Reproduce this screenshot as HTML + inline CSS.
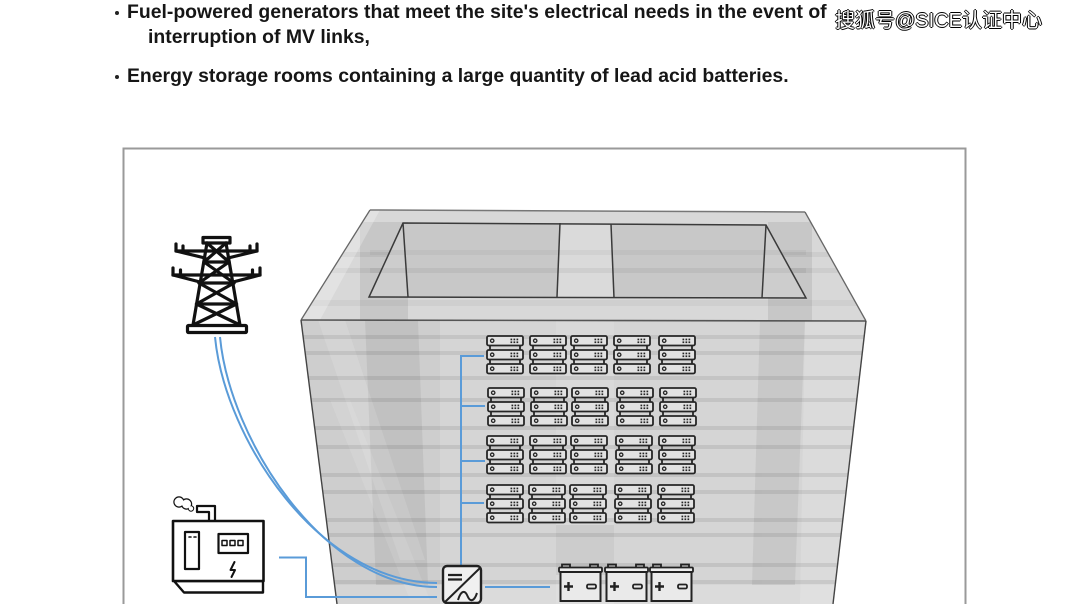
<!DOCTYPE html>
<html>
<head>
<meta charset="utf-8">
<style>
  html,body{margin:0;padding:0;background:#fff;}
  body{width:1075px;height:604px;overflow:hidden;position:relative;}
  .t{position:absolute;font-family:"Liberation Sans",Arial,sans-serif;font-weight:bold;font-size:19.4px;line-height:20px;color:#161616;white-space:nowrap;}
  .b{position:absolute;width:4px;height:4px;border-radius:50%;background:#222;}
  .wm{position:absolute;left:835px;top:9px;font-family:"Liberation Sans","Noto Sans CJK SC",sans-serif;font-size:20px;line-height:24px;color:#fff;white-space:nowrap;
      text-shadow:1px 0 0 #000,-1px 0 0 #000,0 1px 0 #000,0 -1px 0 #000;}
  svg{position:absolute;left:0;top:0;}
</style>
</head>
<body>
<svg width="1075" height="604" viewBox="0 0 1075 604" xmlns="http://www.w3.org/2000/svg">
  <defs>
    <clipPath id="front"><polygon points="301,320 866,321 833,604 337,604"/></clipPath>
    <clipPath id="roof"><polygon points="370,210 805,212 866,321 301,320"/></clipPath>
    <g id="unit">
      <rect x="0" y="0" width="36" height="9.5" rx="1.6" fill="#e2e2e2" stroke="#262626" stroke-width="1.8"/>
      <circle cx="5.2" cy="4.75" r="1.7" fill="none" stroke="#262626" stroke-width="1.3"/>
      <rect x="23.5" y="2.6" width="1.7" height="1.7" fill="#262626"/>
      <rect x="26.5" y="2.6" width="1.7" height="1.7" fill="#262626"/>
      <rect x="29.5" y="2.6" width="1.7" height="1.7" fill="#262626"/>
      <rect x="23.5" y="5.4" width="1.7" height="1.7" fill="#262626"/>
      <rect x="26.5" y="5.4" width="1.7" height="1.7" fill="#262626"/>
      <rect x="29.5" y="5.4" width="1.7" height="1.7" fill="#262626"/>
    </g>
    <g id="stack">
      <line x1="3" y1="9" x2="3" y2="14.5" stroke="#262626" stroke-width="1.8"/>
      <line x1="33" y1="9" x2="33" y2="14.5" stroke="#262626" stroke-width="1.8"/>
      <line x1="3" y1="23" x2="3" y2="28.5" stroke="#262626" stroke-width="1.8"/>
      <line x1="33" y1="23" x2="33" y2="28.5" stroke="#262626" stroke-width="1.8"/>
      <use href="#unit" x="0" y="0"/>
      <use href="#unit" x="0" y="14"/>
      <use href="#unit" x="0" y="28"/>
    </g>
    <g id="bat">
      <rect x="3" y="0" width="8" height="3.5" fill="none" stroke="#222" stroke-width="1.8"/>
      <rect x="31" y="0" width="8" height="3.5" fill="none" stroke="#222" stroke-width="1.8"/>
      <rect x="0" y="3" width="43" height="4.5" rx="1" fill="#eee" stroke="#222" stroke-width="1.8"/>
      <rect x="1.5" y="7.5" width="40" height="29" fill="#eaeaea" stroke="#222" stroke-width="2"/>
      <path d="M5,22 h9 M9.5,17.5 v9" stroke="#222" stroke-width="2.4" fill="none"/>
      <rect x="28" y="20" width="9" height="4" rx="1.5" fill="#eaeaea" stroke="#222" stroke-width="1.8"/>
    </g>
  </defs>

  <!-- frame -->
  <path d="M123.5,604 V148.5 H965.5 V604" fill="none" stroke="#9a9a9a" stroke-width="2"/>

  <!-- ===== building ===== -->
  <polygon points="370,210 805,212 866,321 301,320" fill="#d8d8d8"/>
  <g clip-path="url(#roof)">
    <rect x="360" y="222" width="48" height="100" fill="#000" opacity="0.08"/>
    <rect x="768" y="222" width="44" height="100" fill="#000" opacity="0.08"/>
    <rect x="300" y="252" width="570" height="5" fill="#000" opacity="0.05"/>
    <rect x="300" y="268" width="570" height="5" fill="#000" opacity="0.05"/>
    <rect x="300" y="300" width="570" height="6" fill="#000" opacity="0.04"/>
    <polygon points="301,320 370,210 380,210 320,320" fill="#fff" opacity="0.25"/>
  </g>
  <polygon points="403,223 766,225 806,298 369,297" fill="#c8c8c8"/>
  <polygon points="560,223 611,224 614,298 557,297" fill="#dadada"/>
  <polygon points="403,223 369,297 408,297" fill="#cdcdcd"/>
  <polygon points="766,225 806,298 762,298" fill="#cdcdcd"/>
  <rect x="370" y="250" width="436" height="5" fill="#000" opacity="0.04"/>
  <rect x="370" y="268" width="436" height="5" fill="#000" opacity="0.05"/>
  <g fill="none" stroke="#3a3a3a" stroke-width="1.5">
    <polygon points="403,223 766,225 806,298 369,297"/>
    <line x1="403" y1="223" x2="408" y2="297"/>
    <line x1="766" y1="225" x2="762" y2="298"/>
    <line x1="560" y1="223" x2="557" y2="297"/>
    <line x1="611" y1="224" x2="614" y2="298"/>
  </g>
  <line x1="370" y1="210" x2="805" y2="212" stroke="#777" stroke-width="1.5"/>
  <line x1="370" y1="210" x2="301" y2="320" stroke="#666" stroke-width="1.3"/>
  <line x1="805" y1="212" x2="866" y2="321" stroke="#666" stroke-width="1.3"/>

  <polygon points="301,320 866,321 833,604 337,604" fill="#d5d5d5"/>
  <g clip-path="url(#front)">
    <polygon points="301,320 440,320 440,604 301,604" fill="#000" opacity="0.03"/>
    <polygon points="365,320 418,320 428,585 376,585" fill="#000" opacity="0.06"/>
    <polygon points="318,320 345,320 425,560 400,560" fill="#fff" opacity="0.12"/>
    <polygon points="330,400 350,400 430,600 410,600" fill="#fff" opacity="0.1"/>
    <polygon points="760,320 805,320 795,585 752,585" fill="#000" opacity="0.06"/>
    <polygon points="805,320 866,320 840,604 800,604" fill="#fff" opacity="0.15"/>
    <rect x="556" y="320" width="58" height="290" fill="#fff" opacity="0.1"/>
    <rect x="556" y="525" width="58" height="50" fill="#000" opacity="0.06"/>
    <g fill="#000" opacity="0.08">
      <rect x="300" y="335" width="570" height="4"/>
      <rect x="300" y="351" width="570" height="4"/>
      <rect x="300" y="376" width="570" height="4"/>
      <rect x="300" y="398" width="570" height="4"/>
      <rect x="300" y="426" width="570" height="4"/>
      <rect x="300" y="445" width="570" height="4"/>
      <rect x="300" y="473" width="570" height="4"/>
      <rect x="300" y="490" width="570" height="4"/>
      <rect x="300" y="518" width="570" height="4"/>
      <rect x="300" y="533" width="570" height="4"/>
      <rect x="300" y="563" width="570" height="4"/>
      <rect x="300" y="580" width="570" height="4"/>
    </g>
    <rect x="300" y="585" width="570" height="20" fill="#fff" opacity="0.15"/>
  </g>
  <line x1="301" y1="320" x2="866" y2="321" stroke="#555" stroke-width="1.6"/>
  <line x1="301" y1="320" x2="337" y2="604" stroke="#444" stroke-width="1.4"/>
  <line x1="866" y1="321" x2="833" y2="604" stroke="#444" stroke-width="1.4"/>

  <!-- ===== connectors ===== -->
  <g fill="none" stroke="#5a9bd8" stroke-width="2">
    <path d="M215,337 C225,440 320,583 437,583"/>
    <path d="M220,337 C229.5,438.5 323,587 437,587"/>
    <path d="M279,557.5 H306 V597 H437"/>
    <path d="M461,566 V355"/>
    <path d="M461,356 H484 M461,406 H485 M461,461 H485 M461,503 H484"/>
    <path d="M485,587 H550"/>
  </g>

  <!-- ===== servers ===== -->
  <use href="#stack" x="487" y="336"/>
  <use href="#stack" x="530" y="336"/>
  <use href="#stack" x="571" y="336"/>
  <use href="#stack" x="614" y="336"/>
  <use href="#stack" x="659" y="336"/>

  <use href="#stack" x="488" y="388"/>
  <use href="#stack" x="531" y="388"/>
  <use href="#stack" x="572" y="388"/>
  <use href="#stack" x="617" y="388"/>
  <use href="#stack" x="660" y="388"/>

  <use href="#stack" x="487" y="436"/>
  <use href="#stack" x="530" y="436"/>
  <use href="#stack" x="571" y="436"/>
  <use href="#stack" x="616" y="436"/>
  <use href="#stack" x="659" y="436"/>

  <use href="#stack" x="487" y="485"/>
  <use href="#stack" x="529" y="485"/>
  <use href="#stack" x="570" y="485"/>
  <use href="#stack" x="615" y="485"/>
  <use href="#stack" x="658" y="485"/>

  <!-- ===== inverter ===== -->
  <rect x="443" y="566" width="38" height="37" rx="4" fill="#f0f0f0" stroke="#222" stroke-width="2.4"/>
  <line x1="445" y1="602" x2="480" y2="568" stroke="#222" stroke-width="2"/>
  <path d="M448,575 H462 M448,579.5 H462" stroke="#222" stroke-width="2.2"/>
  <path d="M458,600 C461,590 465,590 467.5,596 C470,602 474,602 477,593" fill="none" stroke="#222" stroke-width="2"/>

  <!-- ===== batteries ===== -->
  <use href="#bat" x="559" y="564.5"/>
  <use href="#bat" x="605" y="564.5"/>
  <use href="#bat" x="650" y="564.5"/>

  <!-- ===== tower ===== -->
  <g fill="none" stroke="#111" stroke-width="3.2" stroke-linejoin="round" stroke-linecap="round">
    <rect x="203" y="237.5" width="27" height="5.5" fill="#fff"/>
    <line x1="207" y1="243" x2="193" y2="325"/>
    <line x1="226" y1="243" x2="240" y2="325"/>
    <path d="M207,243 L229,262 M226,243 L204,262"/>
    <path d="M204,262 L234,283 M229,262 L199,283"/>
    <path d="M199,283 L236.5,304 M234,283 L196.5,304"/>
    <path d="M196.5,304 L240,325 M236.5,304 L193,325"/>
    <path d="M204,262 H229 M199,283 H234 M196.5,304 H236.5"/>
    <path d="M176,251 H257"/>
    <path d="M176,251 L205,258 M257,251 L228,258"/>
    <path d="M176,244 V251 M183,246 V251 M250,246 V251 M257,244 V251"/>
    <path d="M173,275 H260"/>
    <path d="M173,275 L200,282 M260,275 L233,282"/>
    <path d="M173,268 V275 M180.5,270 V275 M252.5,270 V275 M260,268 V275"/>
    <rect x="187.5" y="325.5" width="59" height="7" rx="1" fill="#fff"/>
  </g>

  <!-- ===== generator ===== -->
  <g stroke="#111" stroke-linejoin="round" stroke-linecap="round">
    <circle cx="179" cy="502" r="4.5" fill="none" stroke-width="2.4"/>
    <circle cx="186.5" cy="504" r="4.5" fill="none" stroke-width="2.4"/>
    <circle cx="191" cy="508.5" r="2.2" fill="none" stroke-width="2"/>
    <circle cx="179" cy="502" r="4.5" fill="#fff" stroke="none"/>
    <circle cx="186.5" cy="504" r="4.5" fill="#fff" stroke="none"/>
    <circle cx="191" cy="508.5" r="2.2" fill="#fff" stroke="none"/>
    <path d="M197,506 H215 V521 M197,506 V512 H209 V521" fill="none" stroke-width="2.2"/>
    <polygon points="174,581 263,581 263,592.5 184,592.5" fill="#fff" stroke-width="2.4"/>
    <rect x="173" y="521" width="90.5" height="60" fill="#fff" stroke-width="2.6"/>
    <rect x="185" y="532" width="14" height="37" fill="#fff" stroke-width="2.2"/>
    <path d="M189,537 h2 M194,537 h2" stroke-width="1.6"/>
    <rect x="218.5" y="534" width="29.5" height="19" fill="#fff" stroke-width="2.2"/>
    <rect x="222" y="540.5" width="5" height="5" fill="none" stroke-width="1.5"/>
    <rect x="230" y="540.5" width="5" height="5" fill="none" stroke-width="1.5"/>
    <rect x="238" y="540.5" width="5" height="5" fill="none" stroke-width="1.5"/>
    <path d="M234.5,562 L230.5,570 H235 L231.5,577" fill="none" stroke-width="2"/>
  </g>
</svg>

<div class="b" style="left:115px;top:11px;"></div>
<div class="t" style="left:127px;top:2px;">Fuel-powered generators that meet the site's electrical needs in the event of</div>
<div class="t" style="left:148px;top:26.5px;">interruption of MV links,</div>
<div class="b" style="left:115px;top:74.5px;"></div>
<div class="t" style="left:127px;top:65.5px;">Energy storage rooms containing a large quantity of lead acid batteries.</div>

<div class="wm">搜狐号@SICE认证中心</div>
</body>
</html>
